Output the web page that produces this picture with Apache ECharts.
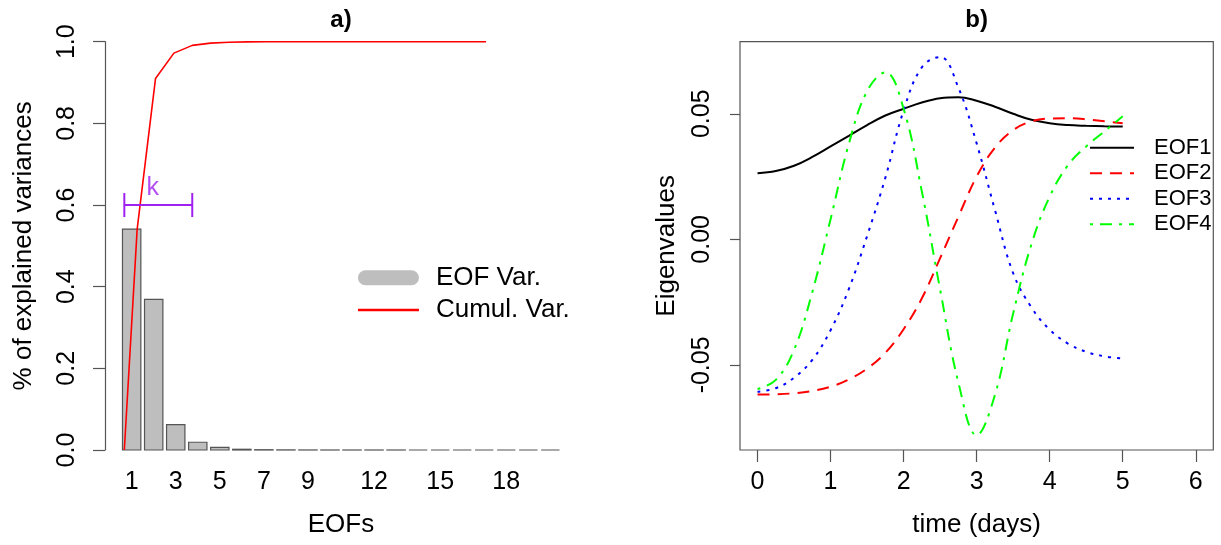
<!DOCTYPE html>
<html><head><meta charset="utf-8">
<script src="https://cdn.jsdelivr.net/npm/echarts@6/dist/echarts.min.js"></script>
<style>html,body{margin:0;padding:0;background:#fff}#c{width:1221px;height:545px}</style>
</head><body><div id="c"></div>
<script>
const FONT = '"Liberation Sans", Arial, Helvetica, sans-serif';

// ---- Panel a data ----
const eofLabels = [1, 3, 5, 7, 9, 12, 15, 18];
const eofVar = [0.541, 0.369, 0.062, 0.019, 0.0062, 0.0018, 0.0007, 0.0003, 0.0001, 0.00005,
                0.00003, 0.00002, 0.00001, 0, 0, 0, 0, 0, 0, 0];
const cumX = [0.3, 1, 2, 3, 4, 5, 6, 7, 8, 9, 10, 11, 12, 13, 14, 15, 16, 17, 18, 19, 20];
const cumVar = [0, 0.541, 0.910, 0.972, 0.991, 0.9965, 0.9985, 0.9995, 0.9999, 1, 1, 1, 1, 1, 1, 1, 1, 1, 1, 1, 1];
const kStart = 0.3, kEnd = 4.0, kLevel = 0.6, kLabelX = 1.85;

// ---- Panel b data ----
const timeDays = [0, 0.25, 0.5, 0.75, 1, 1.25, 1.5, 1.75, 2, 2.25, 2.5, 2.75, 3, 3.25, 3.5, 3.75, 4, 4.25, 4.5, 4.75, 5];
const eof1 = [0.0263, 0.0272, 0.0293, 0.0328, 0.0370, 0.0412, 0.0455, 0.0493, 0.0520, 0.0545, 0.0562,
              0.0566, 0.0552, 0.0528, 0.0500, 0.0476, 0.0462, 0.0455, 0.0452, 0.0450, 0.0449];
const eof2 = [-0.0618, -0.0617, -0.0613, -0.0604, -0.0587, -0.0558, -0.0515, -0.0452, -0.0358, -0.0235, -0.0075,
              0.0090, 0.0250, 0.0365, 0.0435, 0.0470, 0.0481, 0.0482, 0.0478, 0.0470, 0.0462];
const eof3 = [-0.0607, -0.0593, -0.0551, -0.0480, -0.0362, -0.0198, 0.0013, 0.0245, 0.0513, 0.0685, 0.0726,
              0.0604, 0.0382, 0.0117, -0.0135, -0.0271, -0.0360, -0.0415, -0.0448, -0.0466, -0.0475];
const eof4 = [-0.0596, -0.0560, -0.0440, -0.0210, 0.0080, 0.0380, 0.0590, 0.0665, 0.0520, 0.0190, -0.0200,
              -0.0570, -0.0780, -0.0620, -0.0295, -0.0020, 0.0170, 0.0295, 0.0370, 0.0430, 0.0490];
const timeTicks = [0, 1, 2, 3, 4, 5, 6];
const yTicksB = [-0.05, 0, 0.05];

const AX = '#555';
const txt = (size) => ({ fontSize: size, color: '#000', fontFamily: FONT });
const pair = (xs, ys) => xs.map((x, i) => [x, ys[i]]);
const noMarker = { color: 'rgba(0,0,0,0)', borderColor: 'rgba(0,0,0,0)', borderWidth: 0 };

const chart = echarts.init(document.getElementById('c'), null, { renderer: 'canvas' });
chart.setOption({
  animation: false,
  backgroundColor: '#fff',
  textStyle: { fontFamily: FONT },
  title: [
    { text: 'a)', left: 341, top: 8, padding: 0, textAlign: 'center',
      textStyle: { fontSize: 24, fontWeight: 'bold', color: '#000', fontFamily: FONT } },
    { text: 'b)', left: 976.7, top: 8, padding: 0, textAlign: 'center',
      textStyle: { fontSize: 24, fontWeight: 'bold', color: '#000', fontFamily: FONT } }
  ],
  grid: [
    { left: 105, top: 41.7, width: 472, height: 408.3, outerBoundsMode: 'none' },
    { left: 740, top: 41.7, width: 473.3, height: 408.3, outerBoundsMode: 'none',
      show: true, borderColor: AX, borderWidth: 1.2, backgroundColor: 'transparent' }
  ],
  xAxis: [
    { gridIndex: 0, type: 'value', min: -0.752, max: 24.952,
      axisLine: { show: false, onZero: false }, axisTick: { show: false }, splitLine: { show: false },
      axisLabel: Object.assign({ customValues: eofLabels.map(i => 1.2 * i - 0.5),
        formatter: v => String(Math.round((v + 0.5) / 1.2)), margin: 20 }, txt(25)),
      name: 'EOFs', nameLocation: 'middle', nameGap: 62, nameTextStyle: txt(26) },
    { gridIndex: 1, type: 'value', min: -0.24, max: 6.24,
      axisLine: { show: false, onZero: false }, splitLine: { show: false },
      axisTick: { show: true, length: 12, inside: false, customValues: timeTicks, lineStyle: { color: AX, width: 1.2 } },
      axisLabel: Object.assign({ customValues: timeTicks, formatter: v => String(v), margin: 20 }, txt(25)),
      name: 'time (days)', nameLocation: 'middle', nameGap: 62, nameTextStyle: txt(26) }
  ],
  yAxis: [
    { gridIndex: 0, type: 'value', min: 0, max: 1, interval: 0.2,
      axisLine: { show: true, onZero: false, lineStyle: { color: AX, width: 1.2 } },
      axisTick: { show: true, length: 12, inside: false, lineStyle: { color: AX, width: 1.2 } },
      splitLine: { show: false },
      axisLabel: Object.assign({ rotate: 90, formatter: v => v.toFixed(1), margin: 25 }, txt(25)),
      name: '% of explained variances', nameLocation: 'middle', nameGap: 68, nameTextStyle: txt(26) },
    { gridIndex: 1, type: 'value', min: -0.0839, max: 0.0787,
      axisLine: { show: false, onZero: false }, splitLine: { show: false },
      axisTick: { show: true, length: 10, inside: false, customValues: yTicksB, lineStyle: { color: AX, width: 1.2 } },
      axisLabel: Object.assign({ customValues: yTicksB, rotate: 90, formatter: v => v.toFixed(2), margin: 25 }, txt(25)),
      name: 'Eigenvalues', nameLocation: 'middle', nameGap: 60, nameTextStyle: txt(26) }
  ],
  legend: [
    { orient: 'vertical', left: 356.7, top: 264.7, padding: 0,
      itemWidth: 61, itemHeight: 15, itemGap: 6.3,
      selectedMode: false,
      textStyle: { fontSize: 26, lineHeight: 26, color: '#000', fontFamily: FONT, padding: [0, 0, 0, 12] },
      data: [
        { name: 'EOF Var.', icon: 'path://M7.5,0L53.5,0A7.5,7.5,0,0,1,53.5,15L7.5,15A7.5,7.5,0,0,1,7.5,0Z',
          itemStyle: { color: '#BEBEBE', borderWidth: 0 } },
        { name: 'Cumul. Var.', lineStyle: { width: 2.5 }, itemStyle: noMarker }
      ] },
    { orient: 'vertical', left: 1089, top: 136.7, padding: 0,
      itemWidth: 44, itemHeight: 14, itemGap: 3.5,
      selectedMode: false,
      itemStyle: noMarker,
      textStyle: { fontSize: 22, lineHeight: 22, color: '#000', fontFamily: FONT, padding: [0, 0, 0, 15] },
      data: [
        { name: 'EOF1', itemStyle: noMarker },
        { name: 'EOF2', itemStyle: noMarker },
        { name: 'EOF3', itemStyle: noMarker },
        { name: 'EOF4', itemStyle: noMarker }
      ] }
  ],
  series: [
    { name: 'EOF Var.', type: 'custom', xAxisIndex: 0, yAxisIndex: 0,
      itemStyle: { color: '#BEBEBE' },
      encode: { x: 0, y: 1 },
      data: eofVar.map((v, i) => [i + 1, v]),
      renderItem: (params, api) => {
        const i = api.value(0), v = api.value(1);
        const p0 = api.coord([0.2 + 1.2 * (i - 1), v]);
        const p1 = api.coord([1.2 * i, 0]);
        return { type: 'rect',
          shape: { x: p0[0], y: p0[1], width: p1[0] - p0[0], height: p1[1] - p0[1] },
          style: { fill: '#BEBEBE', stroke: '#555', lineWidth: 1.2 } };
      } },
    { name: 'Cumul. Var.', type: 'line', xAxisIndex: 0, yAxisIndex: 0,
      data: pair(cumX, cumVar), showSymbol: false, symbol: 'none', z: 5,
      itemStyle: { color: '#FF0000' }, lineStyle: { color: '#FF0000', width: 1.6 } },
    { name: 'k', type: 'line', xAxisIndex: 0, yAxisIndex: 0,
      data: [[kStart, kLevel], [kEnd, kLevel]], symbol: 'rect', symbolSize: [2, 24], showSymbol: true, z: 6,
      itemStyle: { color: '#A020F0' }, lineStyle: { color: '#A020F0', width: 2 } },
    { name: 'kLabel', type: 'scatter', xAxisIndex: 0, yAxisIndex: 0,
      data: [[kLabelX, kLevel]], symbolSize: 0, z: 6,
      label: { show: true, formatter: 'k', position: 'top', distance: 4,
        fontSize: 25, color: '#A020F0', fontFamily: FONT } },
    { name: 'EOF1', type: 'line', xAxisIndex: 1, yAxisIndex: 1, data: pair(timeDays, eof1),
      smooth: 0.4, showSymbol: false, symbol: 'none',
      itemStyle: { color: '#000' }, lineStyle: { color: '#000', width: 2 } },
    { name: 'EOF2', type: 'line', xAxisIndex: 1, yAxisIndex: 1, data: pair(timeDays, eof2),
      smooth: 0.4, showSymbol: false, symbol: 'none',
      itemStyle: { color: '#FF0000' }, lineStyle: { color: '#FF0000', width: 2, type: [12, 8] } },
    { name: 'EOF3', type: 'line', xAxisIndex: 1, yAxisIndex: 1, data: pair(timeDays, eof3),
      smooth: 0.4, showSymbol: false, symbol: 'none',
      itemStyle: { color: '#0000FF' }, lineStyle: { color: '#0000FF', width: 2, type: [3, 6] } },
    { name: 'EOF4', type: 'line', xAxisIndex: 1, yAxisIndex: 1, data: pair(timeDays, eof4),
      smooth: 0.4, showSymbol: false, symbol: 'none',
      itemStyle: { color: '#00FF00' }, lineStyle: { color: '#00FF00', width: 2, type: [3, 7, 12, 7] } }
  ]
});
</script></body></html>
